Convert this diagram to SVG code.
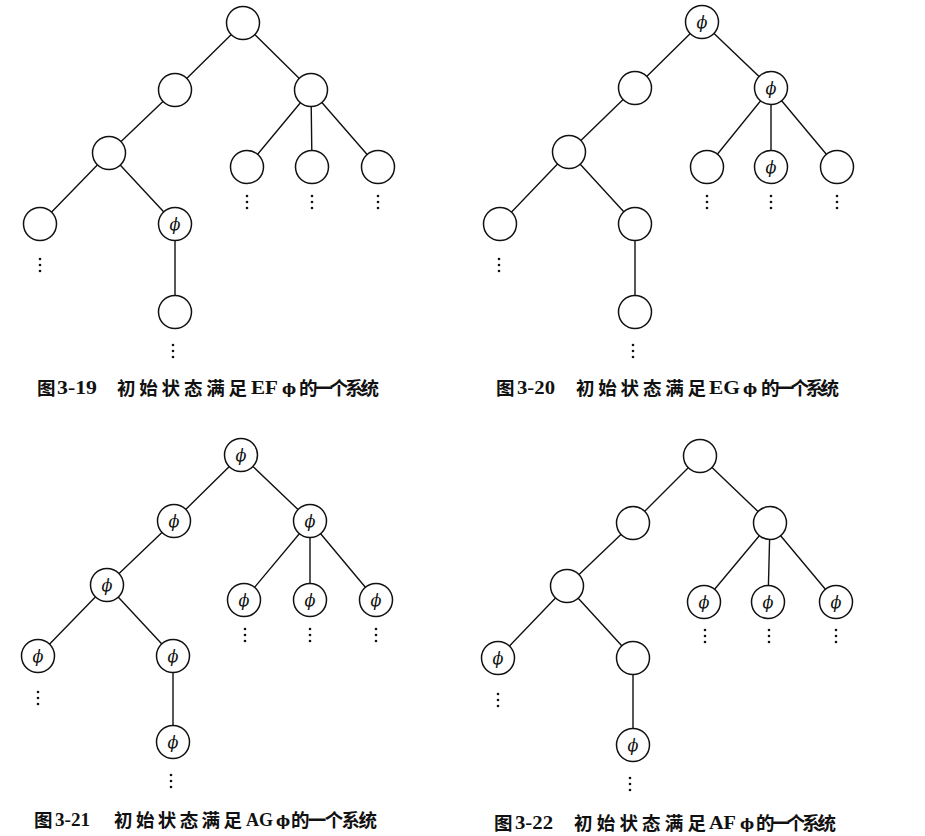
<svg xmlns="http://www.w3.org/2000/svg" width="925" height="836" viewBox="0 0 925 836">
<style>
.e{stroke:#111;stroke-width:1.4;fill:none}
.n{fill:#fff;stroke:#111;stroke-width:1.5}
.p{font-family:"DejaVu Serif",serif;font-style:italic;font-size:16px;fill:#111;text-anchor:middle}
.d{fill:#111}
.cap{font-family:"Liberation Serif",serif;font-size:18px;font-weight:bold;fill:#111}
.ph{font-family:"DejaVu Serif",serif;font-size:15px;font-weight:bold;fill:#111}
.cj{font-family:"Noto Sans CJK SC",sans-serif;font-size:18.5px;font-weight:bold;fill:#111}
</style>
<rect width="925" height="836" fill="#fff"/>
<g id="connectors">
<path class="e" d="M243,23L175,90M243,23L311,90M175,90L109,153M109,153L40,224M109,153L175,224M175,224L175,312M311,90L247,167M311,90L312,167M311,90L378,167"/>
<path class="e" d="M702,22L635,88M702,22L771,88M635,88L569,152M569,152L500,224M569,152L635,224M635,224L635,312M771,88L707,167M771,88L771,167M771,88L837,167"/>
<path class="e" d="M241,455L174,521M241,455L310,521M174,521L107,585M107,585L38,656M107,585L173,656M173,656L173,742M310,521L244,600M310,521L310,600M310,521L376,600"/>
<path class="e" d="M700,456L633,523M700,456L770,523M633,523L567,586M567,586L498,658M567,586L633,658M633,658L633,745M770,523L704,602M770,523L768,602M770,523L836,602"/>
</g>
<g id="a_r"><circle class="n" cx="243" cy="23" r="16.5"/></g>
<g id="a_l1"><circle class="n" cx="175" cy="90" r="16.5"/></g>
<g id="a_r1"><circle class="n" cx="311" cy="90" r="16.5"/></g>
<g id="a_l2"><circle class="n" cx="109" cy="153" r="16.5"/></g>
<g id="a_c1"><circle class="n" cx="247" cy="167" r="16.5"/></g>
<g id="a_c2"><circle class="n" cx="312" cy="167" r="16.5"/></g>
<g id="a_c3"><circle class="n" cx="378" cy="167" r="16.5"/></g>
<g id="a_l3"><circle class="n" cx="40" cy="224" r="16.5"/></g>
<g id="a_m3"><circle class="n" cx="175" cy="224" r="16.5"/><text class="p" x="175" y="230">ϕ</text></g>
<g id="a_b"><circle class="n" cx="175" cy="312" r="16.5"/></g>
<g id="b_r"><circle class="n" cx="702" cy="22" r="16.5"/><text class="p" x="702" y="28">ϕ</text></g>
<g id="b_l1"><circle class="n" cx="635" cy="88" r="16.5"/></g>
<g id="b_r1"><circle class="n" cx="771" cy="88" r="16.5"/><text class="p" x="771" y="94">ϕ</text></g>
<g id="b_l2"><circle class="n" cx="569" cy="152" r="16.5"/></g>
<g id="b_c1"><circle class="n" cx="707" cy="167" r="16.5"/></g>
<g id="b_c2"><circle class="n" cx="771" cy="167" r="16.5"/><text class="p" x="771" y="173">ϕ</text></g>
<g id="b_c3"><circle class="n" cx="837" cy="167" r="16.5"/></g>
<g id="b_l3"><circle class="n" cx="500" cy="224" r="16.5"/></g>
<g id="b_m3"><circle class="n" cx="635" cy="224" r="16.5"/></g>
<g id="b_b"><circle class="n" cx="635" cy="312" r="16.5"/></g>
<g id="c_r"><circle class="n" cx="241" cy="455" r="16.5"/><text class="p" x="241" y="461">ϕ</text></g>
<g id="c_l1"><circle class="n" cx="174" cy="521" r="16.5"/><text class="p" x="174" y="527">ϕ</text></g>
<g id="c_r1"><circle class="n" cx="310" cy="521" r="16.5"/><text class="p" x="310" y="527">ϕ</text></g>
<g id="c_l2"><circle class="n" cx="107" cy="585" r="16.5"/><text class="p" x="107" y="591">ϕ</text></g>
<g id="c_c1"><circle class="n" cx="244" cy="600" r="16.5"/><text class="p" x="244" y="606">ϕ</text></g>
<g id="c_c2"><circle class="n" cx="310" cy="600" r="16.5"/><text class="p" x="310" y="606">ϕ</text></g>
<g id="c_c3"><circle class="n" cx="376" cy="600" r="16.5"/><text class="p" x="376" y="606">ϕ</text></g>
<g id="c_l3"><circle class="n" cx="38" cy="656" r="16.5"/><text class="p" x="38" y="662">ϕ</text></g>
<g id="c_m3"><circle class="n" cx="173" cy="656" r="16.5"/><text class="p" x="173" y="662">ϕ</text></g>
<g id="c_b"><circle class="n" cx="173" cy="742" r="16.5"/><text class="p" x="173" y="748">ϕ</text></g>
<g id="d_r"><circle class="n" cx="700" cy="456" r="16.5"/></g>
<g id="d_l1"><circle class="n" cx="633" cy="523" r="16.5"/></g>
<g id="d_r1"><circle class="n" cx="770" cy="523" r="16.5"/></g>
<g id="d_l2"><circle class="n" cx="567" cy="586" r="16.5"/></g>
<g id="d_c1"><circle class="n" cx="704" cy="602" r="16.5"/><text class="p" x="704" y="608">ϕ</text></g>
<g id="d_c2"><circle class="n" cx="768" cy="602" r="16.5"/><text class="p" x="768" y="608">ϕ</text></g>
<g id="d_c3"><circle class="n" cx="836" cy="602" r="16.5"/><text class="p" x="836" y="608">ϕ</text></g>
<g id="d_l3"><circle class="n" cx="498" cy="658" r="16.5"/><text class="p" x="498" y="664">ϕ</text></g>
<g id="d_m3"><circle class="n" cx="633" cy="658" r="16.5"/></g>
<g id="d_b"><circle class="n" cx="633" cy="745" r="16.5"/><text class="p" x="633" y="751">ϕ</text></g>
<g id="dots" class="d">
<circle cx="247" cy="196" r="1.3"/><circle cx="247" cy="202" r="1.3"/><circle cx="247" cy="208" r="1.3"/>
<circle cx="312" cy="196" r="1.3"/><circle cx="312" cy="202" r="1.3"/><circle cx="312" cy="208" r="1.3"/>
<circle cx="378" cy="196" r="1.3"/><circle cx="378" cy="202" r="1.3"/><circle cx="378" cy="208" r="1.3"/>
<circle cx="40" cy="259" r="1.3"/><circle cx="40" cy="265" r="1.3"/><circle cx="40" cy="271" r="1.3"/>
<circle cx="173" cy="345" r="1.3"/><circle cx="173" cy="351" r="1.3"/><circle cx="173" cy="357" r="1.3"/>
<circle cx="707" cy="196" r="1.3"/><circle cx="707" cy="202" r="1.3"/><circle cx="707" cy="208" r="1.3"/>
<circle cx="771" cy="196" r="1.3"/><circle cx="771" cy="202" r="1.3"/><circle cx="771" cy="208" r="1.3"/>
<circle cx="837" cy="196" r="1.3"/><circle cx="837" cy="202" r="1.3"/><circle cx="837" cy="208" r="1.3"/>
<circle cx="499" cy="259" r="1.3"/><circle cx="499" cy="265" r="1.3"/><circle cx="499" cy="271" r="1.3"/>
<circle cx="633" cy="345" r="1.3"/><circle cx="633" cy="351" r="1.3"/><circle cx="633" cy="357" r="1.3"/>
<circle cx="245" cy="629" r="1.3"/><circle cx="245" cy="635" r="1.3"/><circle cx="245" cy="641" r="1.3"/>
<circle cx="310" cy="629" r="1.3"/><circle cx="310" cy="635" r="1.3"/><circle cx="310" cy="641" r="1.3"/>
<circle cx="376" cy="629" r="1.3"/><circle cx="376" cy="635" r="1.3"/><circle cx="376" cy="641" r="1.3"/>
<circle cx="38" cy="692" r="1.3"/><circle cx="38" cy="698" r="1.3"/><circle cx="38" cy="704" r="1.3"/>
<circle cx="171" cy="775" r="1.3"/><circle cx="171" cy="781" r="1.3"/><circle cx="171" cy="787" r="1.3"/>
<circle cx="705" cy="630" r="1.3"/><circle cx="705" cy="636" r="1.3"/><circle cx="705" cy="642" r="1.3"/>
<circle cx="769" cy="630" r="1.3"/><circle cx="769" cy="636" r="1.3"/><circle cx="769" cy="642" r="1.3"/>
<circle cx="836" cy="630" r="1.3"/><circle cx="836" cy="636" r="1.3"/><circle cx="836" cy="642" r="1.3"/>
<circle cx="498" cy="694" r="1.3"/><circle cx="498" cy="700" r="1.3"/><circle cx="498" cy="706" r="1.3"/>
<circle cx="630" cy="778" r="1.3"/><circle cx="630" cy="784" r="1.3"/><circle cx="630" cy="790" r="1.3"/>
</g>
<g id="cap1">
<text class="cj" x="37" y="395">图</text>
<text class="cap" x="57" y="394" textLength="40" lengthAdjust="spacingAndGlyphs">3-19</text>
<text class="cj" x="117" y="395" textLength="130" lengthAdjust="spacing">初始状态满足</text>
<text class="cap" x="251" y="394" textLength="27" lengthAdjust="spacingAndGlyphs">EF</text>
<text class="ph" x="282" y="394">ϕ</text>
<text class="cj" x="299" y="395" textLength="80" lengthAdjust="spacing">的一个系统</text>
</g>
<g id="cap2">
<text class="cj" x="496" y="395">图</text>
<text class="cap" x="517" y="394" textLength="38" lengthAdjust="spacingAndGlyphs">3-20</text>
<text class="cj" x="576" y="395" textLength="130" lengthAdjust="spacing">初始状态满足</text>
<text class="cap" x="709" y="394" textLength="31" lengthAdjust="spacingAndGlyphs">EG</text>
<text class="ph" x="743" y="394">ϕ</text>
<text class="cj" x="761" y="395" textLength="78" lengthAdjust="spacing">的一个系统</text>
</g>
<g id="cap3">
<text class="cj" x="34" y="827">图</text>
<text class="cap" x="55" y="826" textLength="35" lengthAdjust="spacingAndGlyphs">3-21</text>
<text class="cj" x="114" y="827" textLength="128" lengthAdjust="spacing">初始状态满足</text>
<text class="cap" x="246" y="826" textLength="27" lengthAdjust="spacingAndGlyphs">AG</text>
<text class="ph" x="276" y="826">ϕ</text>
<text class="cj" x="291" y="827" textLength="86" lengthAdjust="spacing">的一个系统</text>
</g>
<g id="cap4">
<text class="cj" x="494" y="830">图</text>
<text class="cap" x="515" y="829" textLength="38" lengthAdjust="spacingAndGlyphs">3-22</text>
<text class="cj" x="574" y="830" textLength="132" lengthAdjust="spacing">初始状态满足</text>
<text class="cap" x="709" y="829" textLength="27" lengthAdjust="spacingAndGlyphs">AF</text>
<text class="ph" x="740" y="829">ϕ</text>
<text class="cj" x="756" y="830" textLength="80" lengthAdjust="spacing">的一个系统</text>
</g>
</svg>
